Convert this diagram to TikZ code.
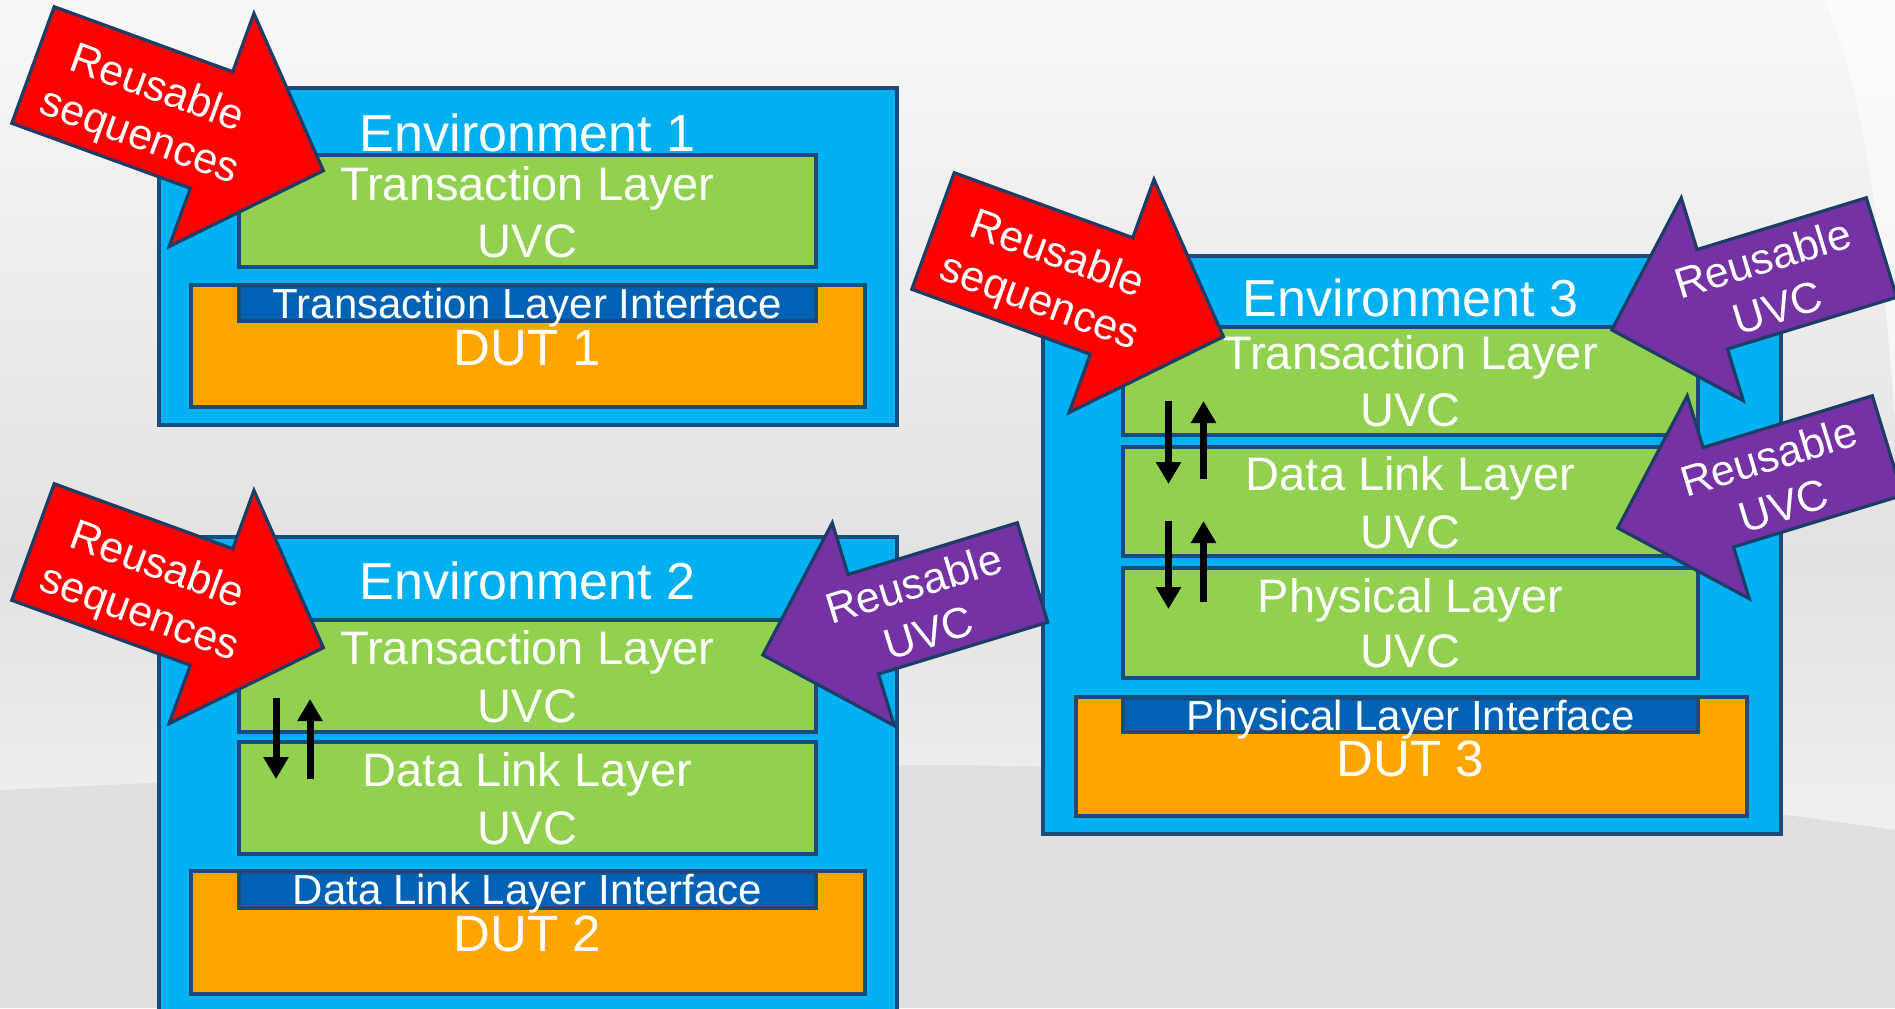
\documentclass[tikz,border=0pt]{standalone}
\usepackage{fontspec}
\setmainfont{Liberation Sans}
\usetikzlibrary{fit,arrows.meta}
\definecolor{envblue}{HTML}{00B0F0}
\definecolor{navy}{HTML}{1B4A7C}
\definecolor{uvcgreen}{HTML}{92D050}
\definecolor{dutorange}{HTML}{FFA500}
\definecolor{ifblue}{HTML}{0062B4}
\definecolor{arrred}{HTML}{FF0000}
\definecolor{arrpurple}{HTML}{7432A4}
\definecolor{arredge}{HTML}{1C3D66}
\definecolor{bgtop}{HTML}{F8F8F8}
\definecolor{bgmid}{HTML}{E2E2E2}
\definecolor{bgband}{HTML}{F0F0F0}
\definecolor{bgbot}{HTML}{E0E0E0}
\tikzset{
  envbox/.style={draw=navy, line width=2pt, fill=envblue, inner sep=0pt},
  uvcbox/.style={draw=navy, line width=2pt, fill=uvcgreen, inner sep=0pt},
  dutbox/.style={draw=navy, line width=2pt, fill=dutorange, inner sep=0pt},
  ifbar/.style={draw=navy, line width=2pt, fill=ifblue, inner sep=0pt},
  lbl/.style={text=white, anchor=base, inner sep=0pt},
  envtxt/.style={lbl, font=\fontsize{26}{30}\selectfont},
  laytxt/.style={lbl, font=\fontsize{23.5}{28}\selectfont},
  iftxt/.style={lbl, font=\fontsize{21}{25}\selectfont},
  duttxt/.style={lbl, font=\fontsize{25.5}{30}\selectfont},
  arrtxt/.style={text=white, align=center, inner sep=0pt, font=\fontsize{21.5}{25.5}\selectfont},
  flow/.style={line width=3.5pt, -{Triangle[width=12pt,length=11pt]}},
  bigred/.style={fill=arrred, draw=arredge, line width=1.6pt, line join=miter},
  bigpurple/.style={fill=arrpurple, draw=arredge, line width=1.6pt, line join=miter},
  pics/redarr/.style={code={\draw[bigred] (0,-62) -- (190,-62) -- (190,-124) -- (309,0) -- (190,124) -- (190,62) -- (0,62) -- cycle;}},
  pics/purarr/.style={code={\draw[bigpurple] (0,-52) -- (177,-52) -- (177,-106) -- (282,0) -- (177,106) -- (177,52) -- (0,52) -- cycle;}},
}
\begin{document}
\begin{tikzpicture}[x=0.5pt, y=-0.5pt]
\useasboundingbox (0,0) rectangle (1895,1008);
\clip (0,0) rectangle (1895,1008);
% background
\shade[top color=bgtop, bottom color=bgmid] (0,0) rectangle (1895,561);
\shade[top color=bgmid, bottom color=bgband] (0,560) -- (1895,560) -- (1895,830) .. controls (1300,740) and (600,760) .. (0,790) -- cycle;
\fill[bgbot] (0,790) .. controls (600,760) and (1300,740) .. (1895,830) -- (1895,1008) -- (0,1008) -- cycle;
\fill[white, opacity=0.6] (1825,0) .. controls (1875,120) and (1885,300) .. (1895,420) -- (1895,0) -- cycle;

% ---------- Environment 1 ----------
\node[envbox, fit={(159,88)(897,425)}] (env1) {};
\node[uvcbox, fit={(239,155)(816,267)}] (tl1) {};
\node[dutbox, fit={(191,285)(865,407)}] (dut1) {};
\node[ifbar, fit={(239,286)(816,321)}] (if1) {};
\node[envtxt] (tenv1) at (527.5,151.7) {Environment 1};
\node[laytxt] (ttl1a) at (527.5,200) {Transaction Layer};
\node[laytxt] (ttl1b) at (527.5,257) {UVC};
\node[iftxt] (tif1) at (527.5,318) {Transaction Layer Interface};
\node[duttxt] (tdut1) at (527.5,365) {DUT 1};

% ---------- Environment 2 ----------
\node[envbox, fit={(159,537)(897,1020)}] (env2) {};
\node[uvcbox, fit={(239,620)(816,732)}] (tl2) {};
\node[uvcbox, fit={(239,742)(816,854)}] (dl2) {};
\node[dutbox, fit={(191,871)(865,994)}] (dut2) {};
\node[ifbar, fit={(239,872)(816,908)}] (if2) {};
\node[envtxt] (tenv2) at (527.5,599.5) {Environment 2};
\node[laytxt] (ttl2a) at (527.5,664.5) {Transaction Layer};
\node[laytxt] (ttl2b) at (527.5,722) {UVC};
\node[laytxt] (tdl2a) at (527.5,786) {Data Link Layer};
\node[laytxt] (tdl2b) at (527.5,844) {UVC};
\node[iftxt] (tif2) at (527.5,904) {Data Link Layer Interface};
\node[duttxt] (tdut2) at (527.5,951) {DUT 2};
\coordinate (e2da) at (276,698);
\coordinate (e2db) at (276,779);
\coordinate (e2ua) at (310,779);
\coordinate (e2ub) at (310,699);
\draw[flow] (e2da) -- (e2db);
\draw[flow] (e2ua) -- (e2ub);

% ---------- Environment 3 ----------
\node[envbox, fit={(1043,256)(1781,834)}] (env3) {};
\node[uvcbox, fit={(1123,327)(1698,435)}] (tl3) {};
\node[uvcbox, fit={(1123,447)(1698,556)}] (dl3) {};
\node[uvcbox, fit={(1123,568)(1698,678)}] (pl3) {};
\node[dutbox, fit={(1076,697)(1747,816)}] (dut3) {};
\node[ifbar, fit={(1123,698)(1698,732)}] (if3) {};
\node[envtxt] (tenv3) at (1410.5,316) {Environment 3};
\node[laytxt] (ttl3a) at (1410.5,369) {Transaction Layer};
\node[laytxt] (ttl3b) at (1410.5,426.5) {UVC};
\node[laytxt] (tdl3a) at (1410.5,490) {Data Link Layer};
\node[laytxt] (tdl3b) at (1410.5,548) {UVC};
\node[laytxt] (tpl3a) at (1410.5,612) {Physical Layer};
\node[laytxt] (tpl3b) at (1410.5,667.6) {UVC};
\node[iftxt] (tif3) at (1410.5,730) {Physical Layer Interface};
\node[duttxt] (tdut3) at (1410.5,776) {DUT 3};
\coordinate (e3d1a) at (1168.5,401);
\coordinate (e3d1b) at (1168.5,484);
\coordinate (e3u1a) at (1203.5,479);
\coordinate (e3u1b) at (1203.5,401);
\coordinate (e3d2a) at (1168.5,521);
\coordinate (e3d2b) at (1168.5,609);
\coordinate (e3u2a) at (1203.5,602);
\coordinate (e3u2b) at (1203.5,521);
\draw[flow] (e3d1a) -- (e3d1b);
\draw[flow] (e3u1a) -- (e3u1b);
\draw[flow] (e3d2a) -- (e3d2b);
\draw[flow] (e3u2a) -- (e3u2b);

% ---------- big arrows ----------
\pic[rotate=-20] at (33,65) {redarr};
\node[arrtxt, rotate=-20] (rs1) at (148,114) {Reusable\\sequences};
\pic[rotate=-20] at (33,542) {redarr};
\node[arrtxt, rotate=-20] (rs2) at (148,591) {Reusable\\sequences};
\pic[rotate=-20] at (933,231) {redarr};
\node[arrtxt, rotate=-20] (rs3) at (1048,280) {Reusable\\sequences};

\pic[rotate=197] at (1032.5,572.5) {purarr};
\node[arrtxt, rotate=17] (ru1) at (921,608) {Reusable\\UVC};
\pic[rotate=197] at (1881.5,247.5) {purarr};
\node[arrtxt, rotate=17] (ru2) at (1770,283) {Reusable\\UVC};
\pic[rotate=197] at (1887.5,445.5) {purarr};
\node[arrtxt, rotate=17] (ru3) at (1776,481) {Reusable\\UVC};
\end{tikzpicture}
\end{document}
